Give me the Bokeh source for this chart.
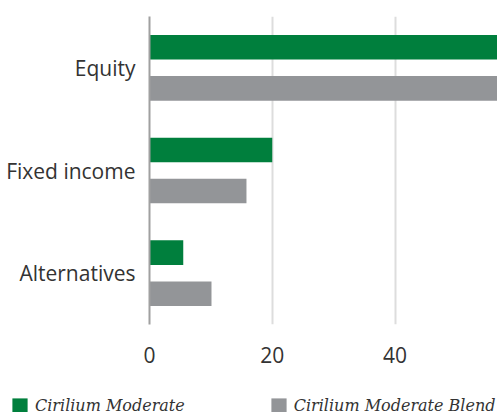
from bokeh.plotting import figure
from bokeh.layouts import column
from bokeh.models import (FactorRange, Range1d, FixedTicker, ColumnDataSource,
                          Legend, LegendItem)
from bokeh.transform import dodge
from bokeh.embed import file_html
from bokeh.resources import INLINE

categories = ["Equity", "Fixed income", "Alternatives"]
series_names = ["Cirilium Moderate", "Cirilium Moderate Blend"]
moderate = [74.5, 20.0, 5.5]
blend = [74.1, 15.8, 10.1]
x_ticks = [0, 20, 40]

GREEN = "#007F3D"
GREY = "#939598"
TEXT = "#333333"

src = ColumnDataSource(dict(cat=categories, moderate=moderate, blend=blend))

p = figure(width=497, height=390, output_backend="svg", toolbar_location=None,
           y_range=FactorRange(factors=categories[::-1], range_padding=0),
           x_range=Range1d(0, 56.7),
           min_border_left=149, min_border_right=0, min_border_top=16,
           min_border_bottom=66)
p.outline_line_color = None
p.frame_align = False

r1 = p.hbar(y=dodge("cat", 0.2, range=p.y_range), right="moderate", height=0.24,
            source=src, color=GREEN, line_color=None)
r2 = p.hbar(y=dodge("cat", -0.2, range=p.y_range), right="blend", height=0.24,
            source=src, color=GREY, line_color=None)

p.ygrid.grid_line_color = None
p.xgrid.grid_line_color = "#dddddd"
p.xgrid.grid_line_width = 2
p.xgrid.ticker = FixedTicker(ticks=x_ticks)

xa = p.xaxis[0]
xa.ticker = FixedTicker(ticks=x_ticks)
xa.axis_line_color = None
xa.major_tick_line_color = None
xa.minor_tick_line_color = None
xa.major_label_text_font = "Open Sans"
xa.major_label_text_font_size = "21px"
xa.major_label_text_color = TEXT
xa.major_label_standoff = 16

ya = p.yaxis[0]
ya.axis_line_color = "#a0a0a0"
ya.axis_line_width = 2
ya.major_tick_line_color = None
ya.minor_tick_line_color = None
ya.major_label_text_font = "Open Sans"
ya.major_label_text_font_size = "21px"
ya.major_label_text_color = TEXT
ya.major_label_standoff = 8

# legend strip below the chart (swatch renderers sit outside the visible range)
p2 = figure(width=497, height=22, output_backend="svg", toolbar_location=None,
            min_border_left=0, min_border_right=0, min_border_top=0,
            min_border_bottom=0, x_range=Range1d(0, 1), y_range=Range1d(0, 1))
p2.frame_align = False
p2.axis.visible = False
p2.grid.visible = False
p2.outline_line_color = None
l1 = p2.hbar(y=[-5], right=[0], height=1, color=GREEN, line_color=None)
l2 = p2.hbar(y=[-5], right=[0], height=1, color=GREY, line_color=None)

legend = Legend(items=[LegendItem(label=series_names[0], renderers=[l1]),
                       LegendItem(label=series_names[1], renderers=[l2])],
                orientation="horizontal", location=(10, -3),
                label_text_font="DejaVu Serif", label_text_font_style="italic",
                label_text_font_size="16px", label_text_color=TEXT,
                glyph_width=19, glyph_height=19, label_standoff=6, spacing=84,
                padding=0, margin=0, border_line_color=None,
                background_fill_alpha=0)
p2.add_layout(legend, "center")

open("out.html", "w").write(file_html(column(p, p2, spacing=0), INLINE))
